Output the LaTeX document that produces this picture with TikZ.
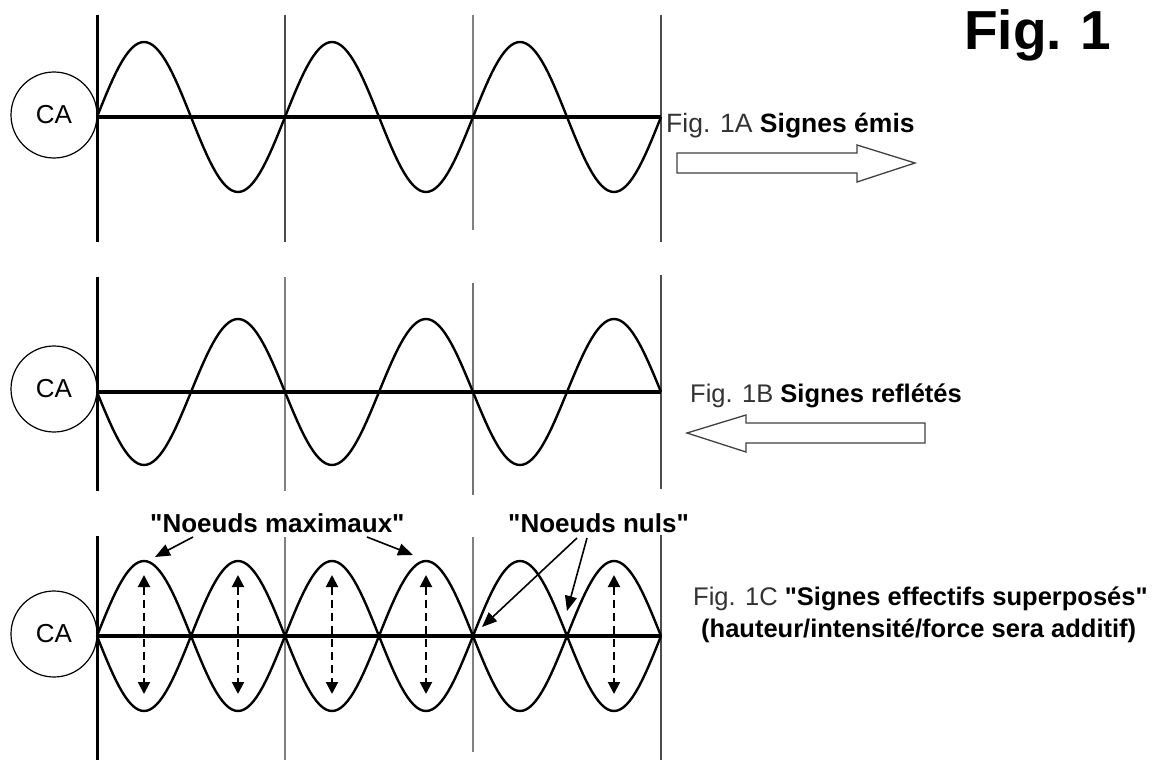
\documentclass[tikz,border=0pt]{standalone}
\usepackage{fontspec}
\setmainfont{Liberation Sans}[Ligatures=TeXOff]
\usetikzlibrary{arrows.meta}
\begin{document}
\begin{tikzpicture}[x=1pt,y=-1pt,
  axisline/.style={line width=3.6pt},
  wave/.style={line width=2.4pt, line join=round},
  thickv/.style={line width=3pt},
  thinv/.style={line width=1.2pt, black!70},
  blockarrow/.style={draw=black!75, line width=1.3pt, fill=white, line join=miter},
  ca/.style={circle, draw, line width=1.2pt, minimum size=86pt, inner sep=0pt, font=\fontsize{26}{30}\selectfont},
  lbl/.style={anchor=base west, inner sep=0pt, font=\fontsize{25.5}{30}\selectfont},
  pointer/.style={line width=1.6pt, -{Triangle[length=15pt,width=12pt]}},
  swing/.style={line width=2pt, dash pattern=on 8pt off 5pt,
    {Triangle[length=12pt,width=12pt]}-{Triangle[length=12pt,width=12pt]}}
]
\useasboundingbox (0,0) rectangle (1160,760);

% ---------- Panel A ----------
\draw[thickv] (97,15) -- (97,242);
\draw[thinv] (285,15) -- (285,242);
\draw[thinv, black!50] (473,15) -- (473,230);
\draw[thinv] (661,15) -- (661,242);
\draw[axisline] (97,117) -- (661,117);
\draw[wave] plot[domain=0:1080, samples=181] ({97+0.522222*\x},{117-75*sin(\x)});
\node[ca] (caA) at (54,115) {CA};
\draw[blockarrow] (677,153) -- (857,153) -- (857,145) -- (915,163) -- (857,182) -- (857,173) -- (677,173) -- cycle;
\node[lbl, font=\fontsize{26.5}{30}\selectfont] (labA) at (666,132) {{\color{black!80}Fig. 1A} \textbf{Signes émis}};

\node[anchor=base west, inner sep=0pt, font=\fontsize{55}{60}\selectfont\bfseries] (title) at (964,50) {Fig.\hspace{19pt}1};

% ---------- Panel B ----------
\draw[thickv] (97,277) -- (97,491);
\draw[thinv, black!50] (285,277) -- (285,491);
\draw[thinv, black!55] (473,283) -- (473,495);
\draw[thinv] (661,275) -- (661,489);
\draw[axisline] (97,392) -- (661,392);
\draw[wave] plot[domain=0:1080, samples=181] ({97+0.522222*\x},{392+73*sin(\x)});
\node[ca] (caB) at (54,389) {CA};
\draw[blockarrow] (687,433) -- (746,415) -- (746,423) -- (925,423) -- (925,443) -- (746,443) -- (746,452) -- cycle;
\node[lbl] (labB) at (690,402) {{\color{black!80}Fig. 1B} \textbf{Signes reflétés}};

% ---------- Panel C ----------
\draw[thickv] (97,536) -- (97,760);
\draw[thinv, black!50] (285,537) -- (285,760);
\draw[thinv, black!50] (473,537) -- (473,752);
\draw[thinv] (661,535) -- (661,760);
\draw[axisline] (97,636) -- (661,636);
\draw[wave] plot[domain=0:1080, samples=181] ({97+0.522222*\x},{636-75*sin(\x)});
\draw[wave] plot[domain=0:1080, samples=181] ({97+0.522222*\x},{636+75*sin(\x)});
\node[ca] (caC) at (54,634) {CA};

\foreach \cx [count=\i] in {144,238,332,426,614} {
  \coordinate (st\i) at (\cx,575);
  \coordinate (sb\i) at (\cx,694);
  \draw[swing] (st\i) -- (sb\i);
}

\node[lbl, font=\fontsize{26}{30}\selectfont\bfseries] (labMax) at (150,532) {"Noeuds maximaux"};
\node[lbl, font=\fontsize{26}{30}\selectfont\bfseries] (labNul) at (508,532) {"Noeuds nuls"};

\coordinate (mxs1) at (193,537); \coordinate (mxe1) at (155,557);
\coordinate (mxs2) at (367,537); \coordinate (mxe2) at (413,555);
\coordinate (nls1) at (577,538); \coordinate (nle1) at (482,627);
\coordinate (nls2) at (587,538); \coordinate (nle2) at (567,611);
\draw[pointer] (mxs1) -- (mxe1);
\draw[pointer] (mxs2) -- (mxe2);
\draw[pointer] (nls1) -- (nle1);
\draw[pointer] (nls2) -- (nle2);

\node[lbl] (labC1) at (693,605) {{\color{black!80}Fig. 1C} \textbf{"Signes effectifs superposés"}};
\node[lbl] (labC2) at (701,637) {\textbf{(hauteur/intensité/force sera additif)}};
\end{tikzpicture}
\end{document}
